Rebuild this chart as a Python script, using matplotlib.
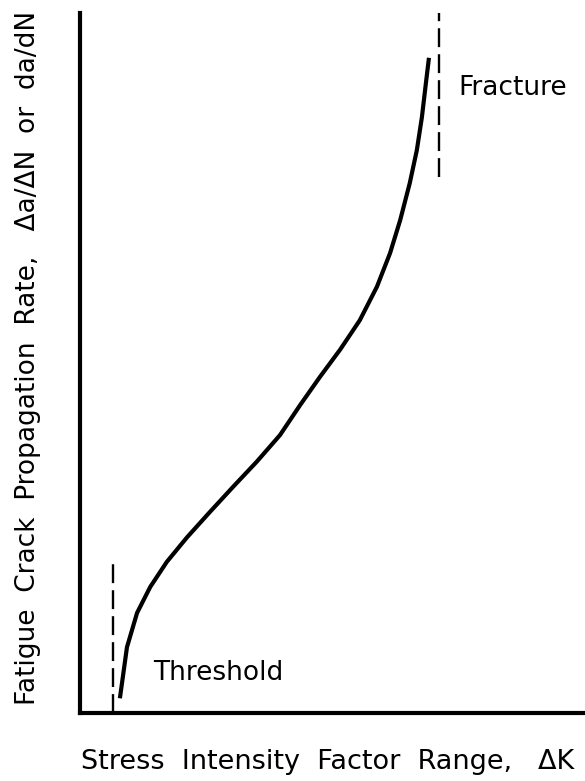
import matplotlib.pyplot as plt

# crack growth curve (arbitrary 0-10 units)
curve_x = [0.79, 0.93, 1.13, 1.39, 1.72, 2.12, 2.57, 3.03, 3.50, 3.96, 4.36,
           4.75, 5.15, 5.54, 5.88, 6.14, 6.34, 6.53, 6.67, 6.77, 6.85, 6.91]
curve_y = [0.21, 0.94, 1.43, 1.80, 2.16, 2.51, 2.87, 3.23, 3.59, 3.97, 4.40,
           4.80, 5.19, 5.61, 6.09, 6.57, 7.04, 7.57, 8.04, 8.51, 9.00, 9.36]

threshold_x = [0.65, 0.65]
threshold_y = [0.0, 2.17]
fracture_x = [7.11, 7.11]
fracture_y = [7.66, 10.0]

plt.rcParams['font.family'] = ['DejaVu Sans']

fig = plt.figure(figsize=(5.85, 7.81), dpi=100)
ax = fig.add_axes([80/585, 68/781, 505/585, 700/781])

ax.plot(curve_x, curve_y, color='black', lw=3, solid_capstyle='butt', solid_joinstyle='round')
ax.plot(threshold_x, threshold_y, color='black', lw=1.7, dashes=(8, 3))
ax.plot(fracture_x, fracture_y, color='black', lw=1.7, dashes=(8, 3))

ax.text(1.45, 0.57, 'Threshold', fontsize=19, va='center', ha='left')
ax.text(7.49, 8.93, 'Fracture', fontsize=19, va='center', ha='left')

ax.set_xlim(0, 10)
ax.set_ylim(0, 10)
ax.set_xticks([])
ax.set_yticks([])
for s in ['top', 'right']:
    ax.spines[s].set_visible(False)
for s in ['left', 'bottom']:
    ax.spines[s].set_linewidth(3)

fig.text(328/585, 1 - 762/781, 'Stress  Intensity  Factor  Range,   \u0394K',
         fontsize=19.5, ha='center', va='center')
fig.text(28/585, 1 - 358/781, 'Fatigue  Crack  Propagation  Rate,   \u0394a/\u0394N  or  da/dN',
         fontsize=19, ha='center', va='center', rotation=90)

fig.savefig('out.png', dpi=100)
